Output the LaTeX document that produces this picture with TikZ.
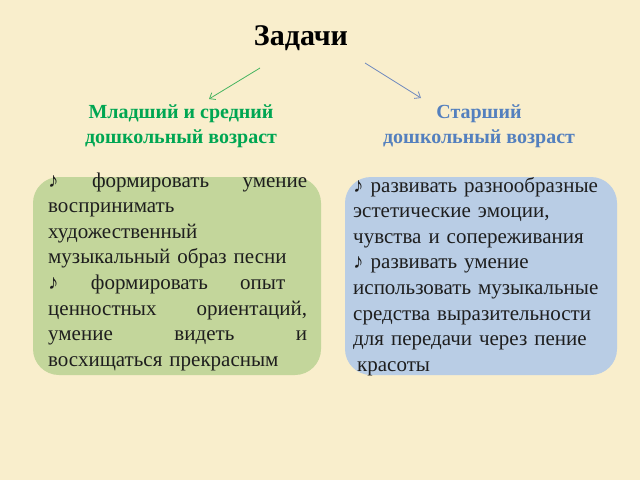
\documentclass[tikz,border=0pt]{standalone}
\usepackage{fontspec}
\setmainfont{Liberation Serif}
\definecolor{paper}{RGB}{249,238,204}
\definecolor{boxgreen}{RGB}{195,214,155}
\definecolor{boxblue}{RGB}{185,205,229}
\definecolor{labelgreen}{RGB}{0,166,82}
\definecolor{labelblue}{RGB}{84,128,190}
\definecolor{arrowgreen}{RGB}{70,180,95}
\definecolor{arrowblue}{RGB}{115,140,190}
\definecolor{ink}{RGB}{30,30,30}
\tikzset{
  heading/.style={font=\fontsize{20}{24.5}\selectfont\bfseries, align=center},
  boxtext/.style={font=\fontsize{21}{25.6}\selectfont, text=ink, inner sep=0pt, align=left, anchor=base west},
  pointer/.style={line width=0.8pt, -{Straight Barb[length=5pt,width=8pt]}}
}
\usetikzlibrary{arrows.meta}
\begin{document}
\begin{tikzpicture}[x=1pt,y=-1pt]
    \useasboundingbox (0,0) rectangle (640,480);
    \fill[paper] (0,0) rectangle (640,480);

    \node[font=\fontsize{30}{36}\selectfont\bfseries] (title) at (301,38) {Задачи};

    \node[heading, text=labelgreen] (young) at (181,126) {Младший и средний\\дошкольный возраст};
    \node[heading, text=labelblue] (old) at (479,126) {Старший\\дошкольный возраст};

    \coordinate (gstart) at (260,68);
    \coordinate (gend) at (209,99);
    \coordinate (bstart) at (365,63);
    \coordinate (bend) at (421,98);
    \draw[pointer, arrowgreen] (gstart) -- (gend);
    \draw[pointer, arrowblue] (bstart) -- (bend);

    \fill[boxgreen, rounded corners=26] (33,177) rectangle (321,375);
    \fill[boxblue, rounded corners=26] (345,177) rectangle (617,375);

    \node[boxtext, text width=259pt] (youngtasks) at (48,187) {%
      ♪\hfill формировать\hfill умение\\
      воспринимать\\
      художественный\\
      музыкальный образ песни\\
      ♪\hfill формировать\hfill опыт\hspace*{22pt}\null\\
      ценностных\hfill ориентаций,\\
      умение\hfill видеть\hfill и\\
      восхищаться прекрасным};

    \node[boxtext, text width=262pt] (oldtasks) at (353,192) {%
      ♪ развивать разнообразные\\
      эстетические эмоции,\\
      чувства и сопереживания\\
      ♪ развивать умение\\
      использовать музыкальные\\
      средства выразительности\\
      для передачи через пение\\
      \hspace*{4pt}красоты};
\end{tikzpicture}
\end{document}
